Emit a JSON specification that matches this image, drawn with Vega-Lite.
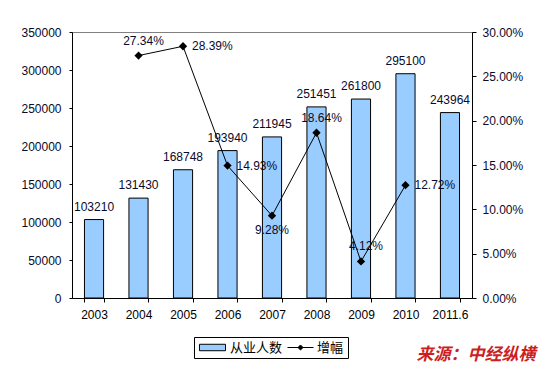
{
  "$schema": "https://vega.github.io/schema/vega-lite/v6.json",
  "width": 400,
  "height": 266,
  "autosize": {"type": "none"},
  "padding": {"left": 72, "top": 32, "right": 69, "bottom": 70},
  "background": "white",
  "config": {
    "view": {"stroke": "#808080", "strokeWidth": 1},
    "font": "Liberation Sans",
    "axis": {"labelFont": "Liberation Sans", "labelFontSize": 12, "labelColor": "#0a0a2a", "domainColor": "#000", "tickColor": "#000", "grid": false, "labelOverlap": false}
  },
  "data": {
    "values": [
      {"year": "2003", "count": 103210, "growth": null, "pos": "none"},
      {"year": "2004", "count": 131430, "growth": 0.2734, "pos": "above"},
      {"year": "2005", "count": 168748, "growth": 0.2839, "pos": "right"},
      {"year": "2006", "count": 193940, "growth": 0.1493, "pos": "right"},
      {"year": "2007", "count": 211945, "growth": 0.0928, "pos": "below"},
      {"year": "2008", "count": 251451, "growth": 0.1864, "pos": "above"},
      {"year": "2009", "count": 261800, "growth": 0.0412, "pos": "above"},
      {"year": "2010", "count": 295100, "growth": 0.1272, "pos": "right"},
      {"year": "2011.6", "count": 243964, "growth": null, "pos": "none"}
    ]
  },
  "encoding": {
    "x": {
      "field": "year",
      "type": "ordinal",
      "sort": null,
      "scale": {"paddingInner": 0.57, "paddingOuter": 0.28},
      "axis": {
        "labelAngle": 0, "tickBand": "extent", "tickSize": 4, "labelPadding": 7, "labelColor": "#000", "domainColor": "#000",
        "title": "来源：中经纵横",
        "titleX": 463, "titleY": 56, "titleAlign": "right", "titleAnchor": null, "titleBaseline": "middle", "titleAngle": 0,
        "titleFont": "Noto Sans CJK SC", "titleFontSize": 17, "titleFontWeight": "bold", "titleFontStyle": "italic", "titleColor": "#cc1f1f"
      }
    }
  },
  "layer": [
    {
      "encoding": {
        "y": {"field": "count", "type": "quantitative", "scale": {"domain": [0, 350000]}, "axis": {"title": null, "values": [0, 50000, 100000, 150000, 200000, 250000, 300000, 350000], "tickCount": 8, "format": "d", "tickSize": 3, "labelPadding": 8, "labelOverlap": false}}
      },
      "layer": [
        {
          "mark": {"type": "bar", "stroke": "#000", "strokeWidth": 1},
          "encoding": {
            "fill": {
              "datum": "从业人数",
              "scale": {"domain": ["从业人数"], "range": ["#99ccff"]},
              "legend": {
                "title": "⠀⠀⠀⠀⠀",
                "titleOrient": "right",
                "titleFont": "DejaVu Sans",
                "titleFontSize": 14,
                "titlePadding": 8,
                "orient": "none",
                "legendX": 122,
                "legendY": 305,
                "strokeColor": "#000",
                "padding": 3,
                "labelFont": "Noto Sans CJK SC",
                "labelFontSize": 13,
                "labelColor": "#000",
                "labelOffset": 10,
                "symbolOffset": 8,
                "symbolType": "M-1.86,-0.46H1.86V0.46H-1.86Z",
                "symbolSize": 196,
                "symbolStrokeColor": "#000",
                "symbolStrokeWidth": 1
              }
            }
          }
        },
        {
          "mark": {"type": "text", "baseline": "middle", "dy": -13, "fontSize": 12, "color": "#0a0a2a"},
          "encoding": {
            "text": {"field": "count", "type": "quantitative", "format": "d"}
          }
        }
      ]
    },
    {
      "encoding": {
        "y": {"field": "growth", "type": "quantitative", "scale": {"domain": [0, 0.3]}, "axis": {"title": null, "orient": "right", "format": ".2%", "values": [0, 0.05, 0.1, 0.15, 0.2, 0.25, 0.3], "tickSize": 4, "labelPadding": 6, "labelOverlap": false}}
      },
      "layer": [
        {
          "mark": {"type": "line", "strokeWidth": 1, "point": {"shape": "diamond", "filled": true, "fill": "#000", "size": 30}},
          "encoding": {
            "stroke": {
              "datum": "增幅",
              "scale": {"domain": ["增幅"], "range": ["#000000"]},
              "legend": {
                "title": null,
                "orient": "none",
                "legendX": 211,
                "legendY": 305,
                "padding": 3,
                "labelFont": "Noto Sans CJK SC",
                "labelFontSize": 13,
                "labelColor": "#000",
                "labelOffset": 9,
                "symbolOffset": 7,
                "symbolType": "M-1.86,0H1.86M-0.36,0L0,-0.36L0.36,0L0,0.36Z",
                "symbolSize": 196,
                "symbolFillColor": "#000",
                "symbolStrokeWidth": 1
              }
            }
          }
        },
        {
          "transform": [{"filter": "datum.pos === 'right'"}],
          "mark": {"type": "text", "align": "left", "baseline": "middle", "dx": 9, "fontSize": 12, "color": "#0a0a2a"},
          "encoding": {
            "text": {"field": "growth", "type": "quantitative", "format": ".2%"}
          }
        },
        {
          "transform": [{"filter": "datum.pos === 'above'"}],
          "mark": {"type": "text", "align": "center", "baseline": "middle", "dx": 5, "dy": -15, "fontSize": 12, "color": "#0a0a2a"},
          "encoding": {
            "text": {"field": "growth", "type": "quantitative", "format": ".2%"}
          }
        },
        {
          "transform": [{"filter": "datum.pos === 'below'"}],
          "mark": {"type": "text", "align": "center", "baseline": "middle", "dy": 14, "fontSize": 12, "color": "#0a0a2a"},
          "encoding": {
            "text": {"field": "growth", "type": "quantitative", "format": ".2%"}
          }
        }
      ]
    }
  ],
  "resolve": {"scale": {"y": "independent"}}
}
